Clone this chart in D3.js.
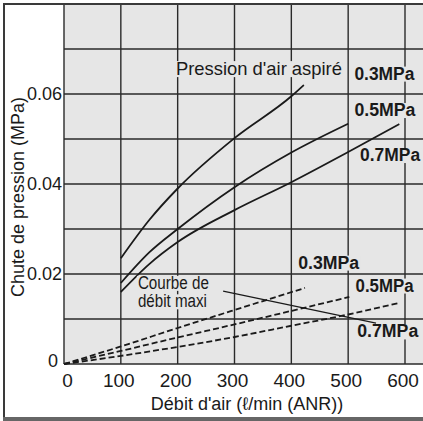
<!DOCTYPE html>
<html>
<head>
<meta charset="utf-8">
<script src="https://cdn.jsdelivr.net/npm/d3@7"></script>
<style>
  html, body { margin: 0; padding: 0; background: #fff; }
  svg { display: block; }
  text { font-family: 'Liberation Sans', Arial, Helvetica, sans-serif; fill: #1a1a1a; }
</style>
</head>
<body>
<svg id="chart" width="423" height="421"></svg>
<script>
// Ticks
const flowTicks = [0, 100, 200, 300, 400, 500, 600];
const dropTicks = [0, 0.02, 0.04, 0.06];
const gridDrops = [0.01, 0.02, 0.03, 0.04, 0.05, 0.06, 0.07];

// Pression d'air aspiré - solid curves [débit, chute]
const suction03 = [[100, 0.0235], [150, 0.0320], [200, 0.0390], [300, 0.0502], [400, 0.0595], [422, 0.0620]];
const suction05 = [[100, 0.0180], [150, 0.0248], [200, 0.0300], [300, 0.0393], [400, 0.0470], [500, 0.0534]];
const suction07 = [[100, 0.0160], [150, 0.0222], [200, 0.0271], [300, 0.0342], [400, 0.0404], [500, 0.0471], [590, 0.0533]];

// Courbe de débit maxi - dashed curves
const maxFlow03 = [[0, 0], [100, 0.0039], [200, 0.0080], [300, 0.0120], [424, 0.0169]];
const maxFlow05 = [[0, 0], [100, 0.0029], [200, 0.0059], [300, 0.0088], [400, 0.0118], [502, 0.0149]];
const maxFlow07 = [[0, 0], [100, 0.0018], [200, 0.0038], [300, 0.0060], [400, 0.0085], [500, 0.0110], [590, 0.0136]];

// Leader line for "Courbe de débit maxi"
const leader = [[280, 0.0162], [549, 0.0091]];

const pressureLabels = ['0.3MPa', '0.5MPa', '0.7MPa'];

const svg = d3.select('#chart');
const plot = { left: 64, right: 423, top: 4, bottom: 364 };
const plotBg = '#e6e6e6';
const ink = '#1a1a1a';

const x = d3.scaleLinear().domain([0, 600]).range([plot.left, 405]);
const y = d3.scaleLinear().domain([0, 0.08]).range([plot.bottom, plot.top]);

// Plot background
svg.append('rect')
    .attr('x', plot.left)
    .attr('y', plot.top)
    .attr('width', plot.right - plot.left)
    .attr('height', plot.bottom - plot.top)
    .attr('fill', plotBg);

// Grid
const grid = svg.append('g').attr('stroke', '#2a2a2a').attr('stroke-width', 1.4);
grid.selectAll('.vgrid')
    .data(flowTicks)
    .enter()
    .append('line')
    .attr('x1', d => x(d)).attr('x2', d => x(d))
    .attr('y1', plot.top).attr('y2', plot.bottom);
grid.selectAll('.hgrid')
    .data([0].concat(gridDrops))
    .enter()
    .append('line')
    .attr('x1', plot.left).attr('x2', plot.right)
    .attr('y1', d => y(d)).attr('y2', d => y(d));

// Curves
const line = d3.line()
    .x(d => x(d[0]))
    .y(d => y(d[1]))
    .curve(d3.curveMonotoneX);

const curves = svg.append('g').attr('fill', 'none').attr('stroke', ink);
curves.selectAll('.solid')
    .data([suction03, suction05, suction07])
    .enter()
    .append('path')
    .attr('d', line)
    .attr('stroke-width', 1.8);
curves.selectAll('.dashed')
    .data([maxFlow03, maxFlow05, maxFlow07])
    .enter()
    .append('path')
    .attr('d', line)
    .attr('stroke-width', 1.8)
    .attr('stroke-dasharray', '6,3');
curves.append('path')
    .attr('d', d3.line().x(d => x(d[0])).y(d => y(d[1]))(leader))
    .attr('stroke-width', 1.2);

// Annotation labels (condensed look via textLength) with a halo of the plot background
const labels = [
    { text: "Pression d'air aspiré", fx: 197, fy: 0.0642, bold: false, size: 18.5, w: 166 },
    { text: pressureLabels[0], fx: 511, fy: 0.0632, bold: true, size: 17.5, w: 60 },
    { text: pressureLabels[1], fx: 511, fy: 0.0551, bold: true, size: 17.5, w: 61 },
    { text: pressureLabels[2], fx: 521, fy: 0.0451, bold: true, size: 17.5, w: 60 },
    { text: pressureLabels[0], fx: 412, fy: 0.0212, bold: true, size: 17.5, w: 61 },
    { text: pressureLabels[1], fx: 513, fy: 0.0161, bold: true, size: 17.5, w: 58 },
    { text: pressureLabels[2], fx: 516, fy: 0.0059, bold: true, size: 17.5, w: 61 },
    { text: 'Courbe de', fx: 130, fy: 0.0167, bold: false, size: 18, w: 71 },
    { text: 'débit maxi', fx: 130, fy: 0.0126, bold: false, size: 18, w: 69 }
];

const labelGroup = svg.append('g');
labels.forEach(l => {
    const g = labelGroup.append('g');
    const t = g.append('text')
        .attr('x', x(l.fx))
        .attr('y', y(l.fy))
        .attr('font-size', l.size + 'px')
        .attr('font-weight', l.bold ? 'bold' : 'normal')
        .attr('textLength', l.w)
        .attr('lengthAdjust', 'spacingAndGlyphs')
        .text(l.text);
    const b = t.node().getBBox();
    g.insert('rect', 'text')
        .attr('x', b.x - 1)
        .attr('y', b.y + 3)
        .attr('width', b.width + 2)
        .attr('height', b.height - 5)
        .attr('fill', plotBg);
});

// Y axis labels
svg.append('g')
    .selectAll('text')
    .data(dropTicks)
    .enter()
    .append('text')
    .attr('x', d => d === 0 ? 58 : 62)
    .attr('y', d => y(d) + (d === 0 ? -3 : 0))
    .attr('dy', '0.36em')
    .attr('text-anchor', 'end')
    .attr('font-size', '18px')
    .text(d => d === 0 ? '0' : d3.format('.2f')(d));

// X axis labels
svg.append('g')
    .selectAll('text')
    .data(flowTicks)
    .enter()
    .append('text')
    .attr('x', d => d === 0 ? x(d) + 3.5 : x(d) - 2)
    .attr('y', 386.5)
    .attr('text-anchor', 'middle')
    .attr('font-size', '19px')
    .text(d => d);

// Axis titles
svg.append('text')
    .attr('x', 247)
    .attr('y', 410)
    .attr('text-anchor', 'middle')
    .attr('font-size', '18px')
    .text("Débit d'air (ℓ/min (ANR))");

svg.append('text')
    .attr('transform', 'translate(24, 197) rotate(-90)')
    .attr('text-anchor', 'middle')
    .attr('font-size', '18px')
    .text('Chute de pression (MPa)');

// Outer frame
svg.append('path')
    .attr('d', 'M4,423 V4 H423')
    .attr('fill', 'none')
    .attr('stroke', '#3a3a3a')
    .attr('stroke-width', 2);
svg.append('line')
    .attr('x1', 3).attr('x2', 423)
    .attr('y1', 419).attr('y2', 419)
    .attr('stroke', '#666')
    .attr('stroke-width', 4);
</script>
</body>
</html>
